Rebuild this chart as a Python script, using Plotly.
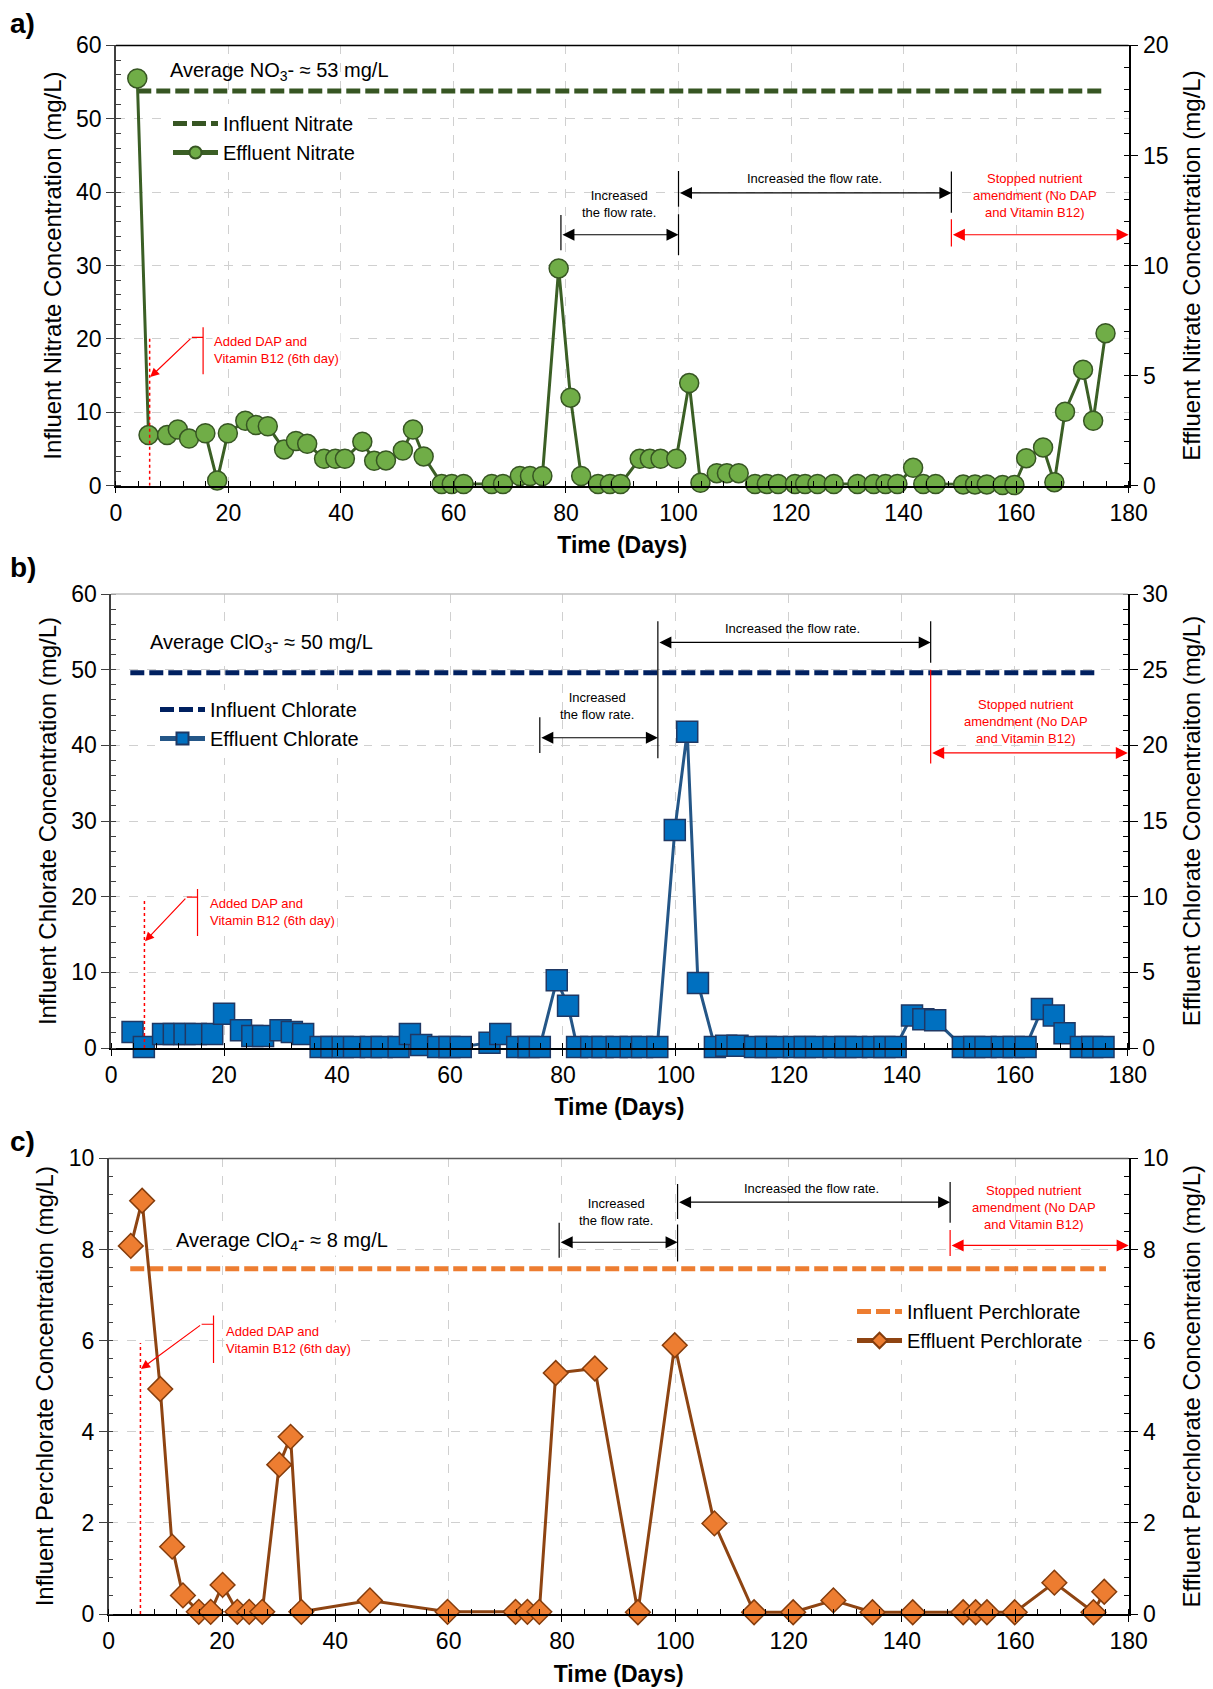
import plotly.graph_objects as go

FONT = "Liberation Sans, Arial, sans-serif"
W, H = 1213, 1689

# ---------------- Data: panel a (nitrate) ----------------
nitrate_days = [3.8, 5.8, 9.1, 11.0, 13.0, 15.9, 18.0, 19.9, 23.0, 24.9,
                27.0, 29.9, 32.0, 34.0, 37.0, 39.0, 40.7, 43.8, 45.9, 48.0,
                51.0, 52.8, 54.7, 57.9, 59.7, 61.8, 66.8, 68.8, 71.8, 73.6,
                75.8, 78.7, 80.8, 82.7, 85.7, 87.8, 89.7, 93.1, 94.9, 96.8,
                99.6, 101.9, 103.9, 106.8, 108.6, 110.7, 113.6, 115.7, 117.7, 120.7,
                122.5, 124.7, 127.6, 131.8, 134.7, 136.8, 138.9, 141.7, 143.5, 145.7,
                150.6, 152.7, 154.8, 157.6, 159.7, 161.8, 164.8, 166.8, 168.7, 171.9,
                173.7, 175.9]
nitrate_effluent = [18.5, 2.3, 2.3, 2.55, 2.14, 2.38, 0.24, 2.38, 2.95, 2.76,
                    2.7, 1.65, 2.03, 1.9, 1.22, 1.22, 1.22, 2.0, 1.13, 1.15,
                    1.6, 2.55, 1.33, 0.08, 0.08, 0.08, 0.08, 0.08, 0.44, 0.44,
                    0.44, 9.87, 4.0, 0.44, 0.08, 0.08, 0.08, 1.22, 1.22, 1.22,
                    1.22, 4.66, 0.13, 0.57, 0.57, 0.57, 0.08, 0.08, 0.08, 0.08,
                    0.08, 0.08, 0.08, 0.08, 0.08, 0.08, 0.08, 0.81, 0.08, 0.08,
                    0.06, 0.06, 0.06, 0.03, 0.03, 1.25, 1.74, 0.16, 3.36, 5.27,
                    2.95, 6.93]
nitrate_influent_days = [3.8, 175.6]
nitrate_influent = [53.8, 53.8]

# ---------------- Data: panel b (chlorate) ----------------
chlorate_days = [3.8, 5.8, 9.2, 11.1, 13.0, 15.0, 17.9, 20.0, 23.0, 25.0,
                 26.9, 30.0, 32.0, 34.0, 37.1, 39.0, 41.0, 43.0, 46.0, 47.9,
                 50.9, 52.9, 54.9, 57.9, 59.9, 61.9, 67.0, 68.9, 71.9, 73.9,
                 75.9, 78.9, 80.9, 82.5, 85.0, 87.0, 89.5, 92.0, 94.0, 96.7,
                 99.8, 102.0, 103.9, 106.9, 108.9, 110.9, 114.0, 115.9, 117.9, 120.9,
                 122.8, 124.8, 127.9, 130.0, 131.9, 134.9, 136.9, 138.9, 141.8, 143.8,
                 145.9, 150.8, 152.8, 154.8, 157.7, 159.8, 161.9, 164.8, 166.9, 168.8,
                 171.7, 173.7, 175.7]
chlorate_effluent = [1.05, 0.07, 0.93, 0.93, 0.93, 0.93, 0.93, 2.27, 1.17, 0.8,
                     0.8, 1.17, 1.05, 0.93, 0.07, 0.07, 0.07, 0.07, 0.07, 0.07,
                     0.07, 0.93, 0.2, 0.07, 0.07, 0.07, 0.35, 0.93, 0.07, 0.07,
                     0.07, 4.47, 2.8, 0.07, 0.07, 0.07, 0.07, 0.07, 0.07, 0.07,
                     14.4, 20.9, 4.3, 0.07, 0.15, 0.15, 0.07, 0.07, 0.07, 0.07,
                     0.07, 0.07, 0.07, 0.07, 0.07, 0.07, 0.07, 0.07, 2.15, 1.9,
                     1.83, 0.07, 0.07, 0.07, 0.07, 0.07, 0.07, 2.57, 2.15, 0.98,
                     0.07, 0.07, 0.07]
chlorate_influent_days = [3.4, 174.6]
chlorate_influent = [49.6, 49.6]

# ---------------- Data: panel c (perchlorate) ----------------
perchlorate_days = [3.9, 5.9, 9.1, 11.2, 13.1, 15.9, 18.0, 20.1, 22.7, 24.8,
                    27.1, 30.1, 32.1, 34.0, 46.1, 59.8, 71.8, 73.9, 76.0, 78.9,
                    85.8, 93.4, 99.9, 106.9, 113.9, 120.8, 127.9, 134.8, 141.9, 150.8,
                    153.0, 155.0, 159.9, 166.9, 173.8, 175.7]
perchlorate_effluent = [8.08, 9.07, 4.94, 1.48, 0.41, 0.05, 0.05, 0.64, 0.05, 0.05,
                        0.05, 3.28, 3.89, 0.05, 0.30, 0.05, 0.05, 0.05, 0.05, 5.29,
                        5.39, 0.04, 5.9, 1.99, 0.04, 0.04, 0.3, 0.04, 0.04, 0.04,
                        0.04, 0.04, 0.04, 0.69, 0.04, 0.49]
perchlorate_influent_days = [3.8, 176.0]
perchlorate_influent = [7.58, 7.58]

x_ticks = [0, 20, 40, 60, 80, 100, 120, 140, 160, 180]

fig = go.Figure()

# ---------------- Traces ----------------
fig.add_trace(go.Scatter(x=nitrate_influent_days, y=nitrate_influent, mode="lines",
                         name="Influent Nitrate", xaxis="x", yaxis="y", legend="legend",
                         line=dict(color="#375623", width=5, dash="14px,5px")))
fig.add_trace(go.Scatter(x=nitrate_days, y=nitrate_effluent, mode="lines+markers",
                         name="Effluent Nitrate", xaxis="x", yaxis="y2", legend="legend",
                         cliponaxis=False,
                         line=dict(color="#3b5f25", width=3),
                         marker=dict(symbol="circle", size=19, color="#70AD47",
                                     line=dict(color="#375623", width=1.5))))

fig.add_trace(go.Scatter(x=chlorate_influent_days, y=chlorate_influent, mode="lines",
                         name="Influent Chlorate", xaxis="x2", yaxis="y3", legend="legend2",
                         line=dict(color="#002060", width=5, dash="14px,5px")))
fig.add_trace(go.Scatter(x=chlorate_days, y=chlorate_effluent, mode="lines+markers",
                         name="Effluent Chlorate", xaxis="x2", yaxis="y4", legend="legend2",
                         cliponaxis=False,
                         line=dict(color="#245687", width=3),
                         marker=dict(symbol="square", size=21, color="#0070C0",
                                     line=dict(color="#1F3864", width=1.5))))

fig.add_trace(go.Scatter(x=perchlorate_influent_days, y=perchlorate_influent, mode="lines",
                         name="Influent Perchlorate", xaxis="x3", yaxis="y5", legend="legend3",
                         line=dict(color="#ED7D31", width=5, dash="14px,5px")))
fig.add_trace(go.Scatter(x=perchlorate_days, y=perchlorate_effluent, mode="lines+markers",
                         name="Effluent Perchlorate", xaxis="x3", yaxis="y6", legend="legend3",
                         cliponaxis=False,
                         line=dict(color="#8E4412", width=3),
                         marker=dict(symbol="diamond", size=19, color="#ED7D31",
                                     line=dict(color="#843C0C", width=1.5))))

# ---------------- Axes ----------------
def xdom(a, b):
    return [a / W, b / W]

def ydom(top, bottom):
    return [1 - bottom / H, 1 - top / H]

panels = [
    dict(x="xaxis", yl="yaxis", yr="yaxis2", xs="x", ys="y", xd=xdom(115.9, 1128.6), yd=ydom(45.4, 485.7),
         lr=[0, 60], ld=10, lm=2, rr=[0, 20], rd=5, rm=1,
         lt="Influent Nitrate Concentration (mg/L)", rt="Effluent Nitrate Concentration (mg/L)",
         topc="#000000"),
    dict(x="xaxis2", yl="yaxis3", yr="yaxis4", xs="x2", ys="y3", xd=xdom(111.1, 1127.8), yd=ydom(594, 1048),
         lr=[0, 60], ld=10, lm=2, rr=[0, 30], rd=5, rm=1,
         lt="Influent Chlorate Concentration (mg/L)", rt="Effluent Chlorate Concentraiton (mg/L)",
         topc="#bfbfbf"),
    dict(x="xaxis3", yl="yaxis5", yr="yaxis6", xs="x3", ys="y5", xd=xdom(108.7, 1128.6), yd=ydom(1158.4, 1614.1),
         lr=[0, 10], ld=2, lm=0.4, rr=[0, 10], rd=2, rm=0.4,
         lt="Influent Perchlorate Concentration (mg/L)", rt="Effluent Perchlorate Concentration (mg/L)",
         topc="#595959"),
]

tickfont = dict(family=FONT, size=23, color="#000000")
titlefont = dict(family=FONT, size=24, color="#000000")
layout_axes = {}
shapes = []
for p in panels:
    layout_axes[p["x"]] = dict(
        domain=p["xd"], anchor=p["ys"], range=[0, 180], tickvals=x_ticks,
        showline=True, linecolor="#000000", linewidth=1.5, mirror=False,
        ticks="outside", ticklen=6, tickcolor="#000000",
        minor=dict(ticks="inside", ticklen=5, dtick=4, tick0=0, tickcolor="#000000", showgrid=False),
        showgrid=True, gridcolor="#d0d0d0", griddash="dash", gridwidth=1,
        zeroline=False, tickfont=tickfont, automargin=False,
        title=dict(text="<b>Time (Days)</b>", font=dict(family=FONT, size=23, color="#000000"), standoff=12),
    )
    layout_axes[p["yl"]] = dict(
        domain=p["yd"], anchor=p["xs"], range=p["lr"], dtick=p["ld"], tick0=0,
        showline=True, linecolor="#404040", linewidth=1.5,
        ticks="outside", ticklen=8, tickcolor="#404040",
        minor=dict(ticks="inside", ticklen=5, dtick=p["lm"], tick0=0, tickcolor="#404040", showgrid=False),
        showgrid=True, gridcolor="#d0d0d0", griddash="dash", gridwidth=1,
        zeroline=False, tickfont=tickfont, automargin=False,
        title=dict(text=p["lt"], font=titlefont, standoff=8),
    )
    layout_axes[p["yr"]] = dict(
        overlaying=p["ys"], side="right", anchor=p["xs"], range=p["rr"], dtick=p["rd"], tick0=0,
        showline=True, linecolor="#000000", linewidth=1.5,
        ticks="outside", ticklen=8, tickcolor="#000000",
        minor=dict(ticks="inside", ticklen=5, dtick=p["rm"], tick0=0, tickcolor="#000000", showgrid=False),
        showgrid=False, zeroline=False, tickfont=tickfont, automargin=False,
        title=dict(text=p["rt"], font=titlefont, standoff=16),
    )
    shapes.append(dict(type="line", xref=p["xs"] + " domain", yref=p["ys"] + " domain",
                       x0=0, x1=1, y0=1, y1=1, line=dict(color=p["topc"], width=1.5)))

# ---------------- Annotations / markups ----------------
annotations = []
RED = "#FF0000"
BLACK = "#000000"


def vline(xs, ys, xv, y0, y1, color, width=1.2, dash="solid"):
    shapes.append(dict(type="line", xref=xs, yref=ys, x0=xv, x1=xv, y0=y0, y1=y1,
                       line=dict(color=color, width=width, dash=dash)))


def hline(xs, ys, x0, x1, yv, color, width=1.2):
    shapes.append(dict(type="line", xref=xs, yref=ys, x0=x0, x1=x1, y0=yv, y1=yv,
                       line=dict(color=color, width=width)))


def darrow(xs, ys, x0, x1, yv, color):
    annotations.append(dict(xref=xs, yref=ys, axref=xs, ayref=ys, x=x1, y=yv, ax=x0, ay=yv,
                            text="", showarrow=True, arrowside="end+start", arrowhead=2,
                            arrowsize=2.0, arrowwidth=1.2, arrowcolor=color, standoff=0, startstandoff=0))


def sarrow(xs, ys, x0, y0, x1, y1, color):
    annotations.append(dict(xref=xs, yref=ys, axref=xs, ayref=ys, x=x1, y=y1, ax=x0, ay=y0,
                            text="", showarrow=True, arrowhead=2, arrowsize=1.5, arrowwidth=1.2,
                            arrowcolor=color, standoff=0))


def label(xs, ys, xv, yv, text, color, size=13, xanchor="center", bg=None, align="center"):
    a = dict(xref=xs, yref=ys, x=xv, y=yv, text=text, showarrow=False, xanchor=xanchor,
             yanchor="middle", align=align, font=dict(family=FONT, size=size, color=color))
    if bg:
        a["bgcolor"] = bg
    annotations.append(a)


# panel a
xs, ys = "x", "y"
label(xs, ys, 9.3, 56.4, "Average NO<sub>3</sub>- ≈ 53 mg/L", BLACK, size=20, xanchor="left")
vline(xs, ys, 6, 0, 20.4, RED, 1.5, "dot")
vline(xs, ys, 15.5, 15.2, 21.6, RED)
hline(xs, ys, 13.5, 15.5, 20.2, RED)
sarrow(xs, ys, 13.5, 20.2, 6.1, 14.8, RED)
label(xs, ys, 17.0, 18.5, "Added DAP and<br>Vitamin B12 (6th day)", RED, xanchor="left", align="left", bg="white")
vline(xs, ys, 79.1, 32.1, 36.9, BLACK)
vline(xs, ys, 100, 31.4, 37.0, BLACK)
darrow(xs, ys, 79.1, 100, 34.2, BLACK)
label(xs, ys, 89.4, 38.4, "Increased<br>the flow rate.", BLACK)
vline(xs, ys, 100, 38.0, 42.9, BLACK)
vline(xs, ys, 148.5, 37.2, 42.8, BLACK)
darrow(xs, ys, 100, 148.5, 39.9, BLACK)
label(xs, ys, 124.2, 41.9, "Increased the flow rate.", BLACK)
vline(xs, ys, 148.5, 32.6, 36.3, RED)
darrow(xs, ys, 148.5, 180, 34.2, RED)
label(xs, ys, 163.4, 39.5, "Stopped nutrient<br>amendment (No DAP<br>and Vitamin B12)", RED)

# panel b
xs, ys = "x2", "y3"
label(xs, ys, 6.6, 53.4, "Average ClO<sub>3</sub>- ≈ 50 mg/L", BLACK, size=20, xanchor="left", bg="white")
vline(xs, ys, 5.9, 0, 19.8, RED, 1.5, "dot")
vline(xs, ys, 15.3, 14.8, 21.0, RED)
hline(xs, ys, 13.4, 15.3, 19.95, RED)
sarrow(xs, ys, 13.4, 19.95, 6.0, 14.1, RED)
label(xs, ys, 17.2, 17.95, "Added DAP and<br>Vitamin B12 (6th day)", RED, xanchor="left", align="left", bg="white")
vline(xs, ys, 75.9, 39.0, 43.7, BLACK)
vline(xs, ys, 96.8, 38.3, 56.4, BLACK)
darrow(xs, ys, 75.9, 96.8, 41.0, BLACK)
label(xs, ys, 86.0, 45.2, "Increased<br>the flow rate.", BLACK)
vline(xs, ys, 145.1, 50.9, 56.4, BLACK)
darrow(xs, ys, 96.8, 145.1, 53.6, BLACK)
label(xs, ys, 120.7, 55.4, "Increased the flow rate.", BLACK)
vline(xs, ys, 145.1, 37.6, 50.0, RED)
darrow(xs, ys, 145.1, 180, 39.0, RED)
label(xs, ys, 162.0, 43.2, "Stopped nutrient<br>amendment (No DAP<br>and Vitamin B12)", RED)

# panel c
xs, ys = "x3", "y5"
label(xs, ys, 11.5, 8.18, "Average ClO<sub>4</sub>- ≈ 8 mg/L", BLACK, size=20, xanchor="left", bg="white")
vline(xs, ys, 5.6, 0, 5.95, RED, 1.5, "dot")
vline(xs, ys, 18.5, 5.51, 6.55, RED)
hline(xs, ys, 16.4, 18.5, 6.36, RED)
sarrow(xs, ys, 16.4, 6.36, 5.7, 5.38, RED)
label(xs, ys, 20.4, 6.02, "Added DAP and<br>Vitamin B12 (6th day)", RED, xanchor="left", align="left", bg="white")
vline(xs, ys, 79.5, 7.82, 8.59, BLACK)
vline(xs, ys, 100.4, 7.74, 8.55, BLACK)
darrow(xs, ys, 79.5, 100.4, 8.16, BLACK)
label(xs, ys, 89.5, 8.83, "Increased<br>the flow rate.", BLACK)
vline(xs, ys, 100.4, 8.67, 9.44, BLACK)
vline(xs, ys, 148.5, 8.59, 9.48, BLACK)
darrow(xs, ys, 100.4, 148.5, 9.04, BLACK)
label(xs, ys, 124.0, 9.33, "Increased the flow rate.", BLACK)
vline(xs, ys, 148.5, 7.86, 8.43, RED)
darrow(xs, ys, 148.5, 180, 8.09, RED)
label(xs, ys, 163.3, 8.93, "Stopped nutrient<br>amendment (No DAP<br>and Vitamin B12)", RED)

# panel letters
for txt, ytop in [("a)", 6), ("b)", 550), ("c)", 1124)]:
    annotations.append(dict(xref="paper", yref="paper", x=8 / W, y=1 - ytop / H, text="<b>" + txt + "</b>",
                            showarrow=False, xanchor="left", yanchor="top",
                            font=dict(family=FONT, size=28, color="#000000")))

legend_common = dict(bgcolor="white", borderwidth=0, itemsizing="constant", itemwidth=45,
                     font=dict(family=FONT, size=20, color="#000000"), xanchor="left", yanchor="top",
                     tracegroupgap=0)

fig.update_layout(
    width=W, height=H, margin=dict(l=0, r=0, t=0, b=0),
    paper_bgcolor="white", plot_bgcolor="white",
    font=dict(family=FONT, color="#000000"),
    showlegend=True,
    legend=dict(x=168 / W, y=1 - 104 / H, **legend_common),
    legend2=dict(x=155 / W, y=1 - 690 / H, **legend_common),
    legend3=dict(x=852 / W, y=1 - 1292 / H, **legend_common),
    shapes=shapes, annotations=annotations,
    **layout_axes,
)

fig.write_html("out.html")
